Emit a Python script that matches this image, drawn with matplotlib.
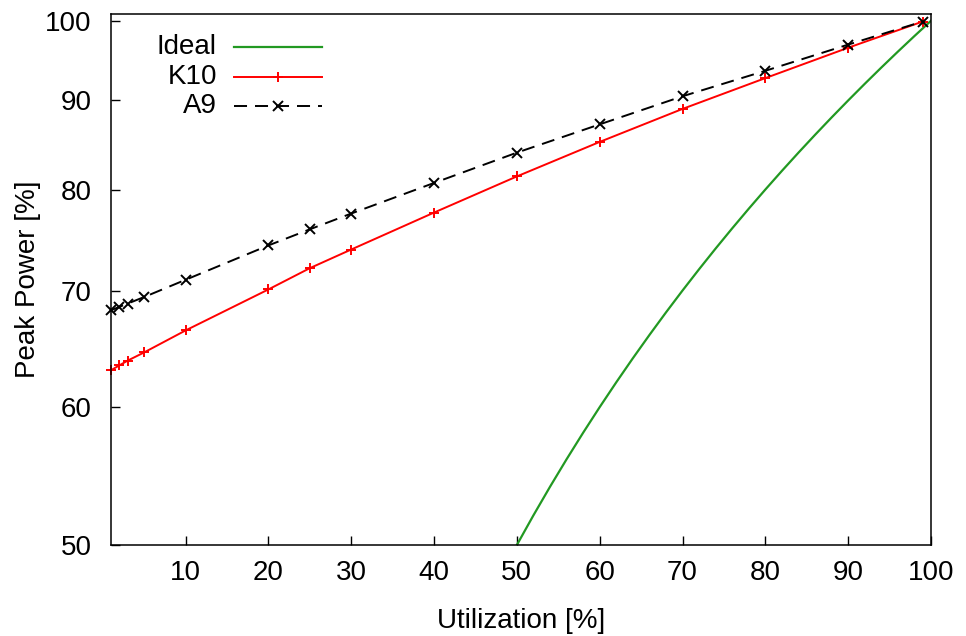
import numpy as np
import matplotlib
matplotlib.use("Agg")
import matplotlib.pyplot as plt
from matplotlib.ticker import FixedLocator, NullLocator, FixedFormatter

plt.rcParams['font.family'] = ['Liberation Sans', 'DejaVu Sans']

# Data
util = [1, 2, 3, 5, 10, 20, 25, 30, 40, 50, 60, 70, 80, 90, 99]
k10 = [63.0, 63.4, 63.8, 64.5, 66.4, 70.1, 72.1, 73.9, 77.6, 81.4, 85.2, 89.0, 92.7, 96.5, 99.9]
a9 = [68.2, 68.5, 68.8, 69.4, 71.0, 74.3, 75.9, 77.5, 80.7, 84.0, 87.2, 90.5, 93.6, 96.9, 99.9]
ideal_x = [50, 52, 54, 56, 58, 60, 62, 64, 66, 68, 70, 72, 74, 76, 78, 80,
           82, 84, 86, 88, 90, 92, 94, 96, 98, 100]
ideal_y = [50, 52, 54, 56, 58, 60, 62, 64, 66, 68, 70, 72, 74, 76, 78, 80,
           82, 84, 86, 88, 90, 92, 94, 96, 98, 100]

xticks = [10, 20, 30, 40, 50, 60, 70, 80, 90, 100]
yticks = [50, 60, 70, 80, 90, 100]

FS = 20
LW = 1.4
DASH = (0, (6.7, 4.1))

fig = plt.figure(figsize=(9.66, 6.36), dpi=100)
ax = fig.add_axes([111/966, 1 - 545/636, 820/966, 531/636])

green = '#229922'
ax.plot(ideal_x, ideal_y, color=green, lw=1.6)
ax.plot(util, k10, color='red', lw=LW, marker='+', ms=7, mew=LW, clip_on=False)
ax.plot(util, a9, color='black', lw=LW, ls=DASH, marker='x', ms=6.5, mew=LW,
        clip_on=False)

ax.set_yscale('log')
ax.set_xlim(1, 100)
ax.set_ylim(50, 100.9)
ax.xaxis.set_major_locator(FixedLocator(xticks))
ax.yaxis.set_major_locator(FixedLocator(yticks))
ax.yaxis.set_major_formatter(FixedFormatter([str(v) for v in yticks]))
ax.yaxis.set_minor_locator(NullLocator())
ax.xaxis.set_minor_locator(NullLocator())
ax.tick_params(direction='in', length=6.5, width=1, labelsize=FS,
               top=False, right=False)
ax.tick_params(axis='y', pad=14)
ax.tick_params(axis='x', pad=11)
for s in ax.spines.values():
    s.set_linewidth(1.1)

ax.set_xlabel('Utilization [%]', fontsize=FS, labelpad=16)
ax.set_ylabel('Peak Power [%]', fontsize=FS, labelpad=3)

# gnuplot-style key: right-justified labels, sample to the right
key = [('Ideal', dict(color=green, lw=1.6), None),
       ('K10', dict(color='red', lw=LW), dict(marker='+', ms=7, mew=LW, color='red')),
       ('A9', dict(color='black', lw=LW, ls=DASH),
        dict(marker='x', ms=6.5, mew=LW, color='black'))]
rows = [0.938, 0.881, 0.827]
for (label, lkw, mkw), yy in zip(key, rows):
    ax.text(0.129, yy, label, transform=ax.transAxes, ha='right', va='center', fontsize=FS)
    ax.plot([0.150, 0.257], [yy, yy], transform=ax.transAxes, **lkw)
    if mkw:
        ax.plot([0.204], [yy], transform=ax.transAxes, ls='none', **mkw)

fig.savefig('out.png', dpi=100)
